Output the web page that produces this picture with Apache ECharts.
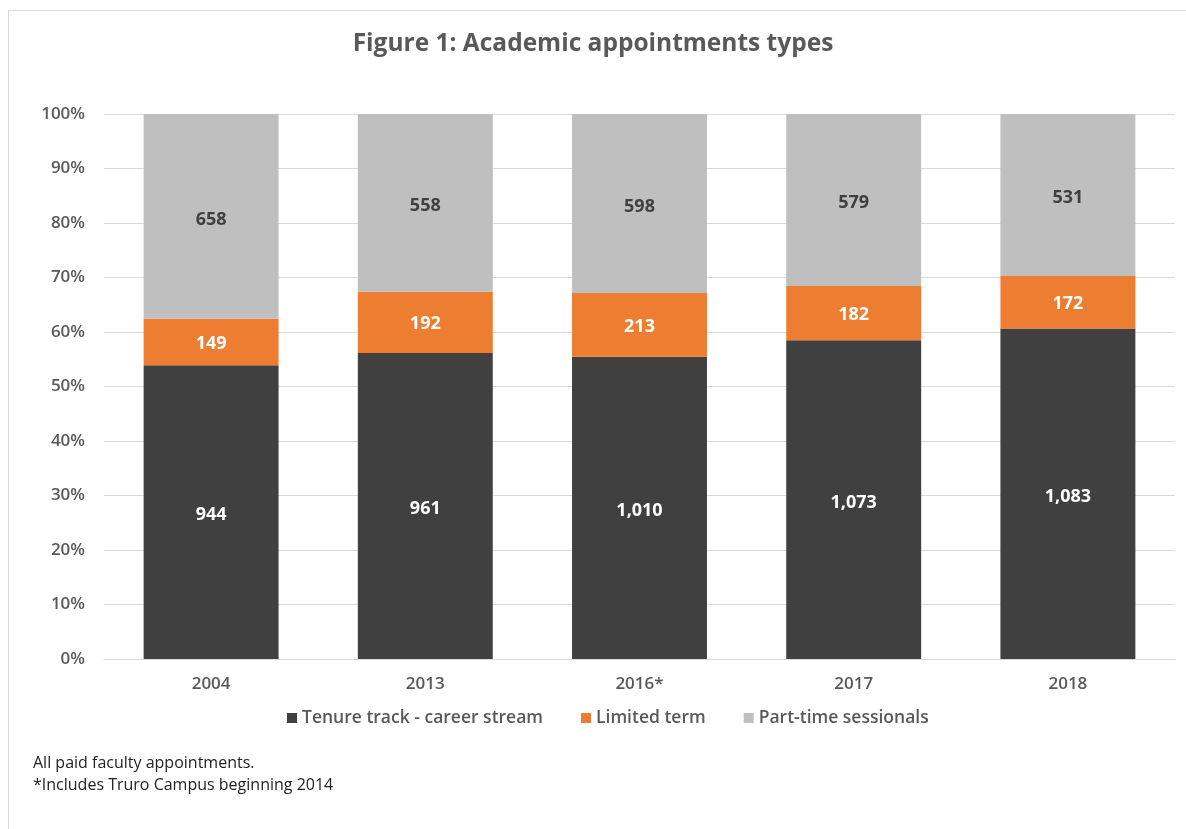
<!DOCTYPE html>
<html>
<head>
<meta charset="utf-8">
<script src="https://cdn.jsdelivr.net/npm/echarts@6/dist/echarts.min.js"></script>
<style>
html,body{margin:0;padding:0;background:#fff;}
#frame{position:absolute;left:8px;top:10px;width:1190px;height:830px;border:1px solid #d9d9d9;box-sizing:border-box;}
#chart{position:absolute;left:0;top:0;width:1186px;height:829px;}
</style>
</head>
<body>
<div id="frame"></div>
<div id="chart"></div>
<script>
const categories = ['2004', '2013', '2016*', '2017', '2018'];
const tenureTrack = [944, 961, 1010, 1073, 1083];
const limitedTerm = [149, 192, 213, 182, 172];
const partTime = [658, 558, 598, 579, 531];
const yTicks = ['0%', '10%', '20%', '30%', '40%', '50%', '60%', '70%', '80%', '90%', '100%'];

const totals = categories.map((c, i) => tenureTrack[i] + limitedTerm[i] + partTime[i]);
function pct(arr) {
  return arr.map((v, i) => ({ value: v / totals[i] * 100, count: v }));
}
function fmtCount(p) {
  return p.data.count.toLocaleString('en-US');
}
const font = '"Open Sans", "Noto Sans", sans-serif';

const chart = echarts.init(document.getElementById('chart'));
chart.setOption({
  animation: false,
  backgroundColor: 'transparent',
  title: {
    text: 'Figure 1: Academic appointments types',
    left: 'center',
    top: 27,
    textStyle: { fontFamily: font, fontSize: 24.5, fontWeight: 'bold', color: '#595959' }
  },
  legend: {
    top: 704,
    left: 282,
    itemWidth: 10,
    itemHeight: 10,
    itemGap: 38,
    icon: 'rect',
    textStyle: { fontFamily: font, fontSize: 17.5, fontWeight: 600, color: '#595959' },
    data: ['Tenure track - career stream', 'Limited term', 'Part-time sessionals']
  },
  grid: { left: 104, right: 11, top: 114, bottom: 170, containLabel: false },
  xAxis: {
    type: 'category',
    data: categories,
    axisLine: { lineStyle: { color: '#d9d9d9', width: 1 } },
    axisTick: { show: false },
    axisLabel: { fontFamily: font, fontSize: 17, fontWeight: 600, color: '#595959', margin: 17 }
  },
  yAxis: {
    type: 'value',
    min: 0,
    max: 100,
    interval: 10,
    axisLine: { show: false },
    axisTick: { show: false },
    splitLine: { lineStyle: { color: '#d9d9d9', width: 1 } },
    axisLabel: {
      fontFamily: font, fontSize: 17, fontWeight: 600, color: '#595959', margin: 19,
      formatter: (v) => yTicks[Math.round(v / 10)]
    }
  },
  series: [
    {
      name: 'Tenure track - career stream',
      type: 'bar', stack: 'all', barWidth: '63%',
      itemStyle: { color: '#404040' },
      label: { show: true, position: 'inside', offset: [0, 3], formatter: fmtCount, color: '#ffffff', fontFamily: font, fontSize: 18, fontWeight: 'bold' },
      data: pct(tenureTrack)
    },
    {
      name: 'Limited term',
      type: 'bar', stack: 'all', barWidth: '63%',
      itemStyle: { color: '#ED7D31' },
      label: { show: true, position: 'inside', offset: [0, 2], formatter: fmtCount, color: '#ffffff', fontFamily: font, fontSize: 18, fontWeight: 'bold' },
      data: pct(limitedTerm)
    },
    {
      name: 'Part-time sessionals',
      type: 'bar', stack: 'all', barWidth: '63%',
      itemStyle: { color: '#BFBFBF' },
      label: { show: true, position: 'inside', offset: [0, 3], formatter: fmtCount, color: '#404040', fontFamily: font, fontSize: 18, fontWeight: 'bold' },
      data: pct(partTime)
    }
  ],
  graphic: [
    { type: 'text', left: 33, top: 755, style: { text: 'All paid faculty appointments.', fontFamily: font, fontSize: 16, fill: '#222' } },
    { type: 'text', left: 33, top: 777, style: { text: '*Includes Truro Campus beginning 2014', fontFamily: font, fontSize: 16, fill: '#222' } }
  ]
});
</script>
</body>
</html>
